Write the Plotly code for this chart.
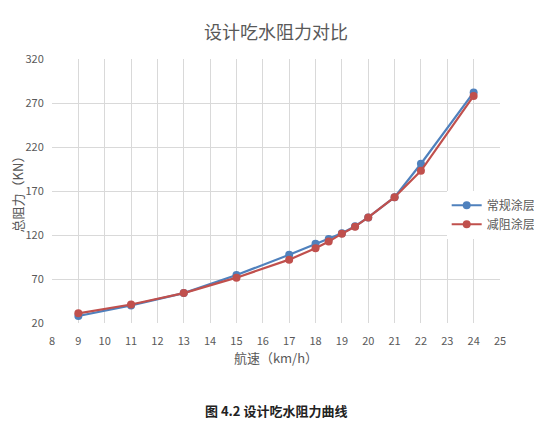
import plotly.graph_objects as go

# 航速 (km/h)
speed = [9, 11, 13, 15, 17, 18, 18.5, 19, 19.5, 20, 21, 22, 24]
# 总阻力 (kN)
normal_coat = [28, 40, 54, 74.5, 97.5, 110, 115.5, 122, 130, 140, 163, 201, 282]
drag_coat = [31, 41, 54, 71.5, 92, 105, 112.5, 121.5, 129.5, 140, 163, 193, 278]

x_ticks = list(range(8, 26))
y_ticks = [20, 70, 120, 170, 220, 270, 320]

cjk = "Noto Sans CJK SC"
grey = "#595959"

fig = go.Figure()
fig.add_trace(go.Scatter(x=speed, y=normal_coat, name="常规涂层", mode="lines+markers",
                         line=dict(color="#4F81BD", width=2.2),
                         marker=dict(color="#4F81BD", size=8)))
fig.add_trace(go.Scatter(x=speed, y=drag_coat, name="减阻涂层", mode="lines+markers",
                         line=dict(color="#C0504D", width=2.2),
                         marker=dict(color="#C0504D", size=8)))

fig.update_xaxes(range=[8, 25], tickvals=x_ticks, showgrid=True, gridcolor="#d9d9d9",
                 zeroline=False, showline=False, automargin=False,
                 ticks="outside", ticklen=8, tickcolor="rgba(0,0,0,0)",
                 tickfont=dict(family=cjk, size=11, color=grey),
                 title=dict(text="航速（km/h）", font=dict(family=cjk, size=13, color=grey), standoff=4))
fig.update_yaxes(range=[20, 320], tickvals=y_ticks, showgrid=True, gridcolor="#d9d9d9",
                 zeroline=False, showline=False, automargin=False,
                 ticks="outside", ticklen=5, tickcolor="rgba(0,0,0,0)",
                 tickfont=dict(family=cjk, size=11, color=grey),
                 title=dict(text="总阻力（KN）", font=dict(family=cjk, size=13, color=grey), standoff=10))

# the page puts the figure 8px in from the top-left corner, so the margins allow for it
fig.update_layout(
    width=542, height=440,
    margin=dict(l=44, r=50, t=51, b=125, autoexpand=False),
    paper_bgcolor="white", plot_bgcolor="white",
    title=dict(text="设计吃水阻力对比", x=(44 + 224) / 542, xanchor="center", y=0.943, yanchor="middle",
               automargin=False, font=dict(family=cjk, size=18, color=grey)),
    legend=dict(x=0.881, y=0.41, xanchor="left", yanchor="middle", bgcolor="white",
                font=dict(family=cjk, size=12, color=grey), tracegroupgap=2,
                itemwidth=30, borderwidth=0),
    showlegend=True,
)
fig.add_annotation(text="<b>图 4.2 设计吃水阻力曲线</b>", xref="paper", yref="paper",
                   x=0.5, y=-0.33, xanchor="center", yanchor="middle", showarrow=False,
                   font=dict(family=cjk, size=13, color="#222222"))

fig.write_html("out.html")
